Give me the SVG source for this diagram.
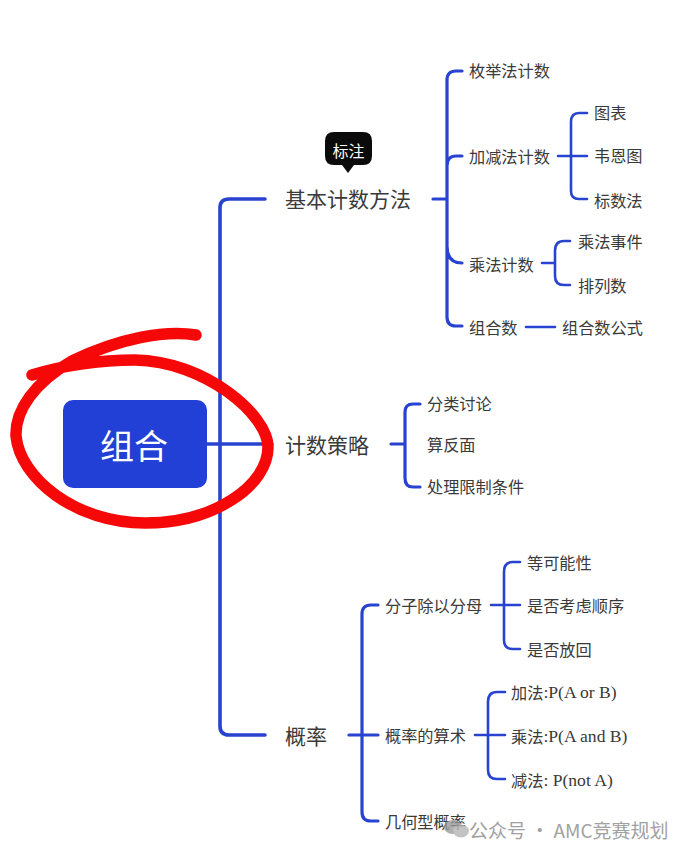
<svg xmlns="http://www.w3.org/2000/svg" width="690" height="858" viewBox="0 0 690 858">
<style>
text{font-family:"Noto Sans CJK SC","Noto Sans",sans-serif;fill:#3a3a3a;dominant-baseline:central}
.l1{font-size:21px}
.l2{font-size:16.2px}
.lat{font-family:"Liberation Serif","Noto Sans CJK SC",serif;font-size:17.6px}
.lat tspan{font-family:"Noto Sans CJK SC",sans-serif;font-size:16.2px}
.c{fill:none;stroke:#2743cf;stroke-linecap:round;stroke-linejoin:round}
.a{stroke-width:3.6}
.b{stroke-width:3.2}
.d{stroke-width:2.6}
</style>
<rect width="690" height="858" fill="#fff"/>
<g id="connectors">
<path class="c a" d="M207 444H272M220 444V208Q220 199 229 199H265M220 444V726Q220 735 229 735H265"/>
<path class="c b" d="M433 199H447M447 80Q447 71 456 71H462M447 80V317Q447 326 456 326H462M447 166Q447 156 456 156H462M447 246Q447 263 462 263"/>
<path class="c d" d="M558 156H587M571 122Q571 113 579 113H587M571 122V191Q571 199 579 199H587M542 263H555M555 251Q555 241 564 241H570M555 251V276Q555 285 564 285H570M526 327H555"/>
<path class="c b" d="M391 444H405M405 412Q405 404 413 404H420M405 412V478Q405 487 413 487H420"/>
<path class="c b" d="M349 735H378M362 614Q362 605 371 605H378M362 614V812Q362 821 371 821H378"/>
<path class="c d" d="M491 605H520M504 572Q504 562 513 562H520M504 572V640Q504 649 513 649H520M475 735H505M488 702Q488 692 497 692H505M488 702V770Q488 779 497 779H505"/>
</g>
<g id="root"><rect x="63" y="400" width="144" height="88" rx="10" fill="#2240d6"/><text x="134" y="444" text-anchor="middle" style="font-size:34px;fill:#fff">组合</text></g>
<g id="callout"><path d="M334 132H363Q372 132 372 141V156Q372 165 363 165H354L348 173L342 165H334Q325 165 325 156V141Q325 132 334 132Z" fill="#0b0b0b"/><text x="348.500" y="150" text-anchor="middle" style="font-size:16px;fill:#fff">标注</text></g>
<g id="n1"><text class="l1" x="285" y="198">基本计数方法</text></g>
<g id="n2"><text class="l1" x="285" y="444">计数策略</text></g>
<g id="n3"><text class="l1" x="285" y="735">概率</text></g>
<g id="n1a"><text class="l2" x="469" y="70">枚举法计数</text></g>
<g id="n1b"><text class="l2" x="469" y="156">加减法计数</text></g>
<g id="n1c"><text class="l2" x="469" y="264">乘法计数</text></g>
<g id="n1d"><text class="l2" x="469" y="327">组合数</text></g>
<g id="n1b1"><text class="l2" x="594" y="112">图表</text></g>
<g id="n1b2"><text class="l2" x="594" y="155">韦恩图</text></g>
<g id="n1b3"><text class="l2" x="594" y="200">标数法</text></g>
<g id="n1c1"><text class="l2" x="578" y="241">乘法事件</text></g>
<g id="n1c2"><text class="l2" x="578" y="285">排列数</text></g>
<g id="n1d1"><text class="l2" x="562" y="327">组合数公式</text></g>
<g id="n2a"><text class="l2" x="427" y="403">分类讨论</text></g>
<g id="n2b"><text class="l2" x="427" y="444">算反面</text></g>
<g id="n2c"><text class="l2" x="427" y="486">处理限制条件</text></g>
<g id="n3a"><text class="l2" x="385" y="605">分子除以分母</text></g>
<g id="n3b"><text class="l2" x="385" y="735">概率的算术</text></g>
<g id="n3c"><text class="l2" x="385" y="821">几何型概率</text></g>
<g id="n3a1"><text class="l2" x="527" y="562">等可能性</text></g>
<g id="n3a2"><text class="l2" x="527" y="605">是否考虑顺序</text></g>
<g id="n3a3"><text class="l2" x="527" y="649">是否放回</text></g>
<g id="n3b1"><text class="lat" x="511" y="692"><tspan>加法</tspan>:P(A or B)</text></g>
<g id="n3b2"><text class="lat" x="511" y="736"><tspan>乘法</tspan>:P(A and B)</text></g>
<g id="n3b3"><text class="lat" x="511" y="780"><tspan>减法</tspan>: P(not A)</text></g>
<g id="annotation">
<path d="M196 335C165 330 120 338 72 361C35 382 15 410 16 436C20 478 75 523 145 523C215 523 268 485 268 447C268 415 205 361 135 360C100 360 60 366 32 375" fill="none" stroke="#f60808" stroke-width="11.500" stroke-linecap="round" stroke-linejoin="round"/>
</g>
<g id="watermark" opacity=".8">
<ellipse cx="453" cy="827" rx="9" ry="7" fill="#9a9a9a"/><ellipse cx="461" cy="831" rx="8" ry="6.500" fill="#b5b5b5"/>
<text x="469" y="829" style="font-size:19px;fill:#8a8a8a">公众号 · AMC竞赛规划</text>
</g>
</svg>
